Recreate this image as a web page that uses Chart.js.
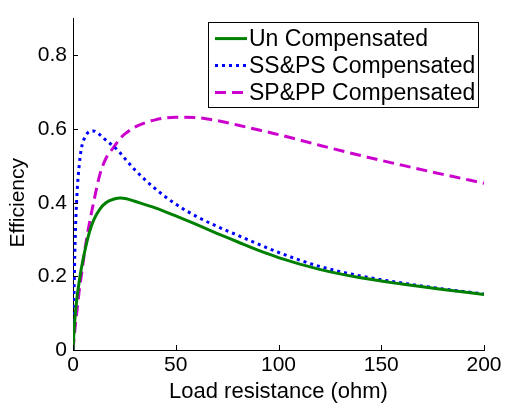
<!DOCTYPE html>
<html>
<head>
<meta charset="utf-8">
<script src="https://cdn.jsdelivr.net/npm/chart.js@4.4.0/dist/chart.umd.min.js"></script>
<style>
  html, body { margin: 0; padding: 0; background: #fff; }
  #wrap { width: 505px; height: 410px; }
</style>
</head>
<body>
<div id="wrap"><canvas id="c" width="505" height="410"></canvas></div>
<script>
// load resistance (ohm)
const resistance = [0, 0.5, 1, 2, 3, 4, 6, 8, 10, 13, 16, 20, 23, 26, 30, 40, 50, 60, 70, 80, 90, 100, 120, 140, 160, 180, 200];
const unCompensated = [0, 0.05, 0.09, 0.145, 0.185, 0.22, 0.275, 0.32, 0.352, 0.382, 0.4, 0.41, 0.413, 0.411, 0.404, 0.386, 0.364, 0.341, 0.317, 0.294, 0.271, 0.251, 0.219, 0.196, 0.179, 0.164, 0.151];
const ssPsCompensated = [0, 0.15, 0.29, 0.43, 0.5, 0.545, 0.58, 0.593, 0.595, 0.585, 0.57, 0.552, 0.535, 0.515, 0.49, 0.438, 0.396, 0.363, 0.336, 0.312, 0.288, 0.265, 0.227, 0.201, 0.182, 0.166, 0.152];
const spPpCompensated = [0, 0.03, 0.06, 0.11, 0.16, 0.2, 0.28, 0.345, 0.4, 0.475, 0.52, 0.552, 0.575, 0.59, 0.605, 0.625, 0.632, 0.631, 0.623, 0.611, 0.598, 0.585, 0.556, 0.528, 0.502, 0.477, 0.453];
const xTicks = [0, 50, 100, 150, 200];
const yTicks = [0, 0.2, 0.4, 0.6, 0.8];

const FONT = "'Liberation Sans', Arial, Helvetica, sans-serif";

const pts = ys => resistance.map((x, i) => ({ x: x, y: ys[i] }));

// matlab style ticks pointing into the plot, plus the y title
const innerTicks = {
  id: 'innerTicks',
  afterDraw(chart) {
    const ctx = chart.ctx;
    const a = chart.chartArea;
    const sx = chart.scales.x, sy = chart.scales.y;
    ctx.save();
    ctx.strokeStyle = '#000';
    ctx.lineWidth = 1;
    ctx.beginPath();
    xTicks.forEach(v => {
      const px = Math.round(sx.getPixelForValue(v)) + 0.5;
      ctx.moveTo(px, a.bottom);
      ctx.lineTo(px, a.bottom - 5);
    });
    yTicks.forEach(v => {
      const py = Math.round(sy.getPixelForValue(v)) + 0.5;
      ctx.moveTo(a.left, py);
      ctx.lineTo(a.left + 5, py);
    });
    ctx.stroke();

    ctx.translate(18, sy.getPixelForValue(0.4));
    ctx.rotate(-Math.PI / 2);
    ctx.fillStyle = '#000';
    ctx.font = '21px ' + FONT;
    ctx.textAlign = 'center';
    ctx.textBaseline = 'middle';
    ctx.fillText('Efficiency', 0, 0);
    ctx.restore();
  }
};

// legend box inside the plot, top right
const boxLegend = {
  id: 'boxLegend',
  afterDraw(chart) {
    const ctx = chart.ctx;
    const a = chart.chartArea;
    const w = 270, h = 85;
    const bx = a.right - 6 - w, by = a.top + 3;
    ctx.save();
    ctx.fillStyle = '#fff';
    ctx.fillRect(bx, by, w, h);
    ctx.strokeStyle = '#000';
    ctx.lineWidth = 1;
    ctx.strokeRect(Math.round(bx) + 0.5, Math.round(by) + 0.5, w, h);
    ctx.font = '23px ' + FONT;
    ctx.textBaseline = 'middle';
    chart.data.datasets.forEach((ds, i) => {
      const y = by + 17 + i * 27;
      ctx.strokeStyle = ds.borderColor;
      ctx.lineWidth = ds.borderWidth;
      ctx.setLineDash(ds.borderDash || []);
      ctx.beginPath();
      ctx.moveTo(bx + 7, y);
      ctx.lineTo(bx + 39, y);
      ctx.stroke();
      ctx.setLineDash([]);
      ctx.fillStyle = '#000';
      ctx.fillText(ds.label, bx + 41, y + 1);
    });
    ctx.restore();
  }
};

new Chart(document.getElementById('c'), {
  type: 'line',
  data: {
    datasets: [
      {
        label: 'Un Compensated',
        data: pts(unCompensated),
        borderColor: '#008000',
        borderWidth: 3,
        pointRadius: 0,
        cubicInterpolationMode: 'monotone',
        fill: false
      },
      {
        label: 'SS&PS Compensated',
        data: pts(ssPsCompensated),
        borderColor: '#0000ff',
        borderWidth: 3,
        borderDash: [3, 4],
        pointRadius: 0,
        cubicInterpolationMode: 'monotone',
        fill: false
      },
      {
        label: 'SP&PP Compensated',
        data: pts(spPpCompensated),
        borderColor: '#cc00cc',
        borderWidth: 3,
        borderDash: [11, 6],
        pointRadius: 0,
        cubicInterpolationMode: 'monotone',
        fill: false
      }
    ]
  },
  options: {
    responsive: false,
    animation: false,
    layout: { padding: { top: 12, right: 21, bottom: 0, left: 0 } },
    plugins: {
      legend: { display: false },
      tooltip: { enabled: false }
    },
    scales: {
      x: {
        type: 'linear',
        min: 0,
        max: 200,
        afterBuildTicks: s => { s.ticks = xTicks.map(v => ({ value: v })); },
        afterFit: s => { s.height = 60; },
        ticks: { color: '#000', font: { family: FONT, size: 21 }, padding: 3, maxRotation: 0 },
        grid: { drawOnChartArea: false, drawTicks: false },
        border: { color: '#000', width: 1 },
        title: {
          display: true,
          text: 'Load resistance (ohm)',
          color: '#000',
          font: { family: FONT, size: 22 },
          padding: { top: 0, bottom: 5 }
        }
      },
      y: {
        min: 0,
        max: 0.9,
        afterBuildTicks: s => { s.ticks = yTicks.map(v => ({ value: v })); },
        afterFit: s => { s.width = 73; },
        ticks: { color: '#000', font: { family: FONT, size: 21 }, padding: 6 },
        grid: { drawOnChartArea: false, drawTicks: false },
        border: { color: '#000', width: 1 }
      }
    }
  },
  plugins: [innerTicks, boxLegend]
});
</script>
</body>
</html>
